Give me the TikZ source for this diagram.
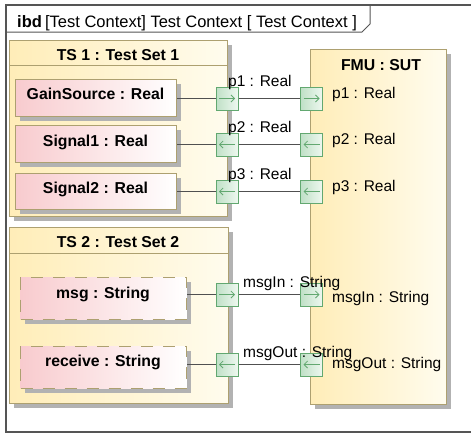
\documentclass[tikz,border=0pt]{standalone}
\usepackage{fontspec}
\setmainfont{Liberation Sans}
\usetikzlibrary{arrows.meta,shadows}
\definecolor{frameC}{HTML}{555555}
\definecolor{boxB}{HTML}{ADA070}
\definecolor{boxL}{HTML}{FFEDB8}
\definecolor{boxR}{HTML}{FFFCEE}
\definecolor{partL}{HTML}{F8CBCE}
\definecolor{partR}{HTML}{FFFFFF}
\definecolor{portB}{HTML}{62A870}
\definecolor{portL}{HTML}{BFE0C6}
\definecolor{portR}{HTML}{EEF8F0}
\definecolor{shad}{HTML}{B2B2B2}
\definecolor{wire}{HTML}{505050}
\begin{document}
\begin{tikzpicture}[x=1pt,y=-1pt,
  regular/.style={font=\fontsize{15.5}{18}\selectfont},
  bold/.style={font=\fontsize{15.8}{18}\selectfont\bfseries},
  txt/.style={inner sep=0pt, anchor=base},
  lbl/.style={regular, inner sep=0pt, anchor=base west},
  myshadow/.style={drop shadow={shadow xshift=4pt, shadow yshift=-4pt, fill=shad, opacity=1}},
  blockbox/.style={draw=boxB, line width=1pt, left color=boxL, right color=boxR, anchor=north west, inner sep=0pt, myshadow},
  partbox/.style={draw=boxB, line width=1pt, left color=partL, right color=partR, anchor=north west, inner sep=0pt, myshadow},
  dashpart/.style={partbox, dash pattern=on 12pt off 10pt},
  portbase/.style={draw=portB, line width=1pt, left color=portL, right color=portR, minimum width=22pt, minimum height=23pt, inner sep=0pt},
  portout/.style={portbase, path picture={\draw[portB, line width=0.8pt, -{Straight Barb[length=3.5pt,width=7pt]}] ([xshift=-8pt]path picture bounding box.center) -- ([xshift=8pt]path picture bounding box.center);}},
  portin/.style={portbase, path picture={\draw[portB, line width=0.8pt, -{Straight Barb[length=3.5pt,width=7pt]}] ([xshift=8pt]path picture bounding box.center) -- ([xshift=-8pt]path picture bounding box.center);}},
  wireline/.style={draw=wire, line width=1pt}
]
\useasboundingbox (0,0) rectangle (471,434);
\fill[white] (0,0) rectangle (471,434);
% frame
\draw[frameC, line width=1.4pt] (480,5) -- (6,5) -- (6,432) -- (480,432);
\draw[frameC, line width=1pt] (6,32) -- (362,32) -- (370,24) -- (370,5);
\node[lbl, font=\fontsize{16.5}{18}\selectfont\bfseries] (ibd) at (17,27) {ibd};
\node[lbl, font=\fontsize{16.5}{18}\selectfont] (title) at (ibd.base east) {\,[Test Context] Test Context [ Test Context ]};

% TS1
\node[blockbox, minimum width=218pt, minimum height=176pt] (ts1) at (9,40) {};
\coordinate (h1) at (0,65);
\draw[boxB, line width=1pt] (ts1.west |- h1) -- (ts1.east |- h1);
\node[txt, bold] (ts1t) at (118,60) {TS 1 : Test Set 1};

% TS2
\node[blockbox, minimum width=219pt, minimum height=176pt] (ts2) at (9,227) {};
\coordinate (h2) at (0,253);
\draw[boxB, line width=1pt] (ts2.west |- h2) -- (ts2.east |- h2);
\node[txt, bold] (ts2t) at (118,247) {TS 2 : Test Set 2};

% FMU
\node[blockbox, minimum width=136pt, minimum height=355pt] (fmu) at (310,49) {};
\node[txt, bold] (fmut) at (381,70) {FMU : SUT};

% parts
\node[partbox, minimum width=161pt, minimum height=37pt] (gs) at (15,79) {};
\node[txt, bold] (gst) at (95.5,99) {GainSource : Real};
\node[partbox, minimum width=161pt, minimum height=37pt] (s1) at (15,125) {};
\node[txt, bold] (s1t) at (95.5,146) {Signal1 : Real};
\node[partbox, minimum width=161pt, minimum height=36pt] (s2) at (15,173) {};
\node[txt, bold] (s2t) at (95.5,193) {Signal2 : Real};
\node[dashpart, minimum width=166pt, minimum height=42pt] (msg) at (20,277) {};
\node[txt, bold] (msgt) at (103,298) {msg : String};
\node[dashpart, minimum width=166pt, minimum height=42pt] (rcv) at (20,346) {};
\node[txt, bold] (rcvt) at (103,366) {receive : String};

% ports on test sets
\node[portout] (a1) at (227,98.5) {};
\node[portin]  (a2) at (227,144.5) {};
\node[portin]  (a3) at (227,191.5) {};
\node[portout] (a4) at (227,294.5) {};
\node[portin]  (a5) at (227,364.5) {};
% ports on FMU
\node[portout] (b1) at (311.5,98.5) {};
\node[portin]  (b2) at (311.5,144.5) {};
\node[portin]  (b3) at (311.5,191.5) {};
\node[portout] (b4) at (311.5,294.5) {};
\node[portin]  (b5) at (311.5,364.5) {};

% connectors
\draw[wireline] (gs.east |- a1) -- (a1.west);
\draw[wireline] (a1.east) -- (b1.west);
\draw[wireline] (s1.east |- a2) -- (a2.west);
\draw[wireline] (a2.east) -- (b2.west);
\draw[wireline] (s2.east |- a3) -- (a3.west);
\draw[wireline] (a3.east) -- (b3.west);
\draw[wireline] (msg.east |- a4) -- (a4.west);
\draw[wireline] (a4.east) -- (b4.west);
\draw[wireline] (rcv.east |- a5) -- (a5.west);
\draw[wireline] (a5.east) -- (b5.west);

% connector labels
\node[lbl] (c1) at (228,86) {p1 : Real};
\node[lbl] (c2) at (228,132) {p2 : Real};
\node[lbl] (c3) at (228,179) {p3 : Real};
\node[lbl] (c4) at (243,287) {msgIn : String};
\node[lbl] (c5) at (243,357) {msgOut : String};
% FMU port labels
\node[lbl] (d1) at (332,98.5) {p1 : Real};
\node[lbl] (d2) at (332,144) {p2 : Real};
\node[lbl] (d3) at (332,191.5) {p3 : Real};
\node[lbl] (d4) at (332,302) {msgIn : String};
\node[lbl] (d5) at (332,368) {msgOut : String};
\end{tikzpicture}
\end{document}
